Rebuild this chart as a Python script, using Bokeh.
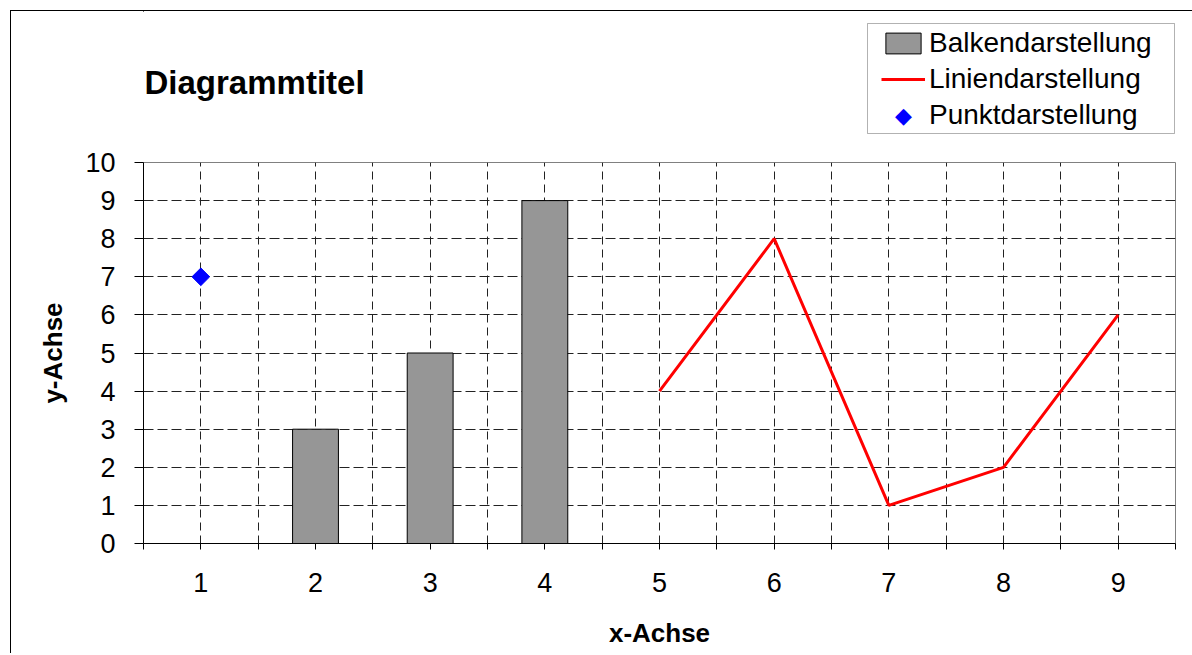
import math
from bokeh.plotting import figure
from bokeh.layouts import column
from bokeh.models import (Range1d, FixedTicker, Legend, LegendItem, Label,
                          BoxAnnotation, ColumnDataSource)
from bokeh.embed import file_html
from bokeh.resources import INLINE

# ---- data ----
x_ticks = [1, 2, 3, 4, 5, 6, 7, 8, 9]
x_half = [0.5, 1.5, 2.5, 3.5, 4.5, 5.5, 6.5, 7.5, 8.5, 9.5]
y_ticks = [0, 1, 2, 3, 4, 5, 6, 7, 8, 9, 10]

bar_x = [2, 3, 4]
bar_y = [3, 5, 9]

line_x = [5, 6, 7, 8, 9]
line_y = [4, 8, 1, 2, 6]

point_x = [1]
point_y = [7]

title_text = "Diagrammtitel"
x_label = "x-Achse"
y_label = "y-Achse"
legend_labels = ["Balkendarstellung", "Liniendarstellung", "Punktdarstellung"]

FONT = "Liberation Sans"
BAR_FILL = "#969696"
LINE_COL = "#ff0000"
PT_COL = "#0000ff"

bar_src = ColumnDataSource(dict(x=bar_x, top=bar_y))
line_src = ColumnDataSource(dict(x=line_x, y=line_y))
pt_src = ColumnDataSource(dict(x=point_x, y=point_y))

OX, OY = 11, 11          # content origin in page px (inside outer border)
W = 1181
FRAME_L, FRAME_R = 143, 1175

# ---------------- header figure (title + legend) ----------------
TOP_H = 131
top = figure(width=W, height=TOP_H, output_backend="svg", toolbar_location=None,
             title=None, x_range=Range1d(FRAME_L, FRAME_R),
             y_range=Range1d(OY + TOP_H, OY),
             x_axis_type=None, y_axis_type=None,
             min_border_left=FRAME_L - OX, min_border_right=OX + W - FRAME_R,
             min_border_top=0, min_border_bottom=0)
top.outline_line_color = None
top.background_fill_color = "white"
top.border_fill_color = "white"

# legend-glyph renderers (same data; they fall outside this header's frame)
lg_bar = top.vbar(x="x", top="top", source=bar_src, width=0.4, fill_color=BAR_FILL,
                  line_color="black", line_width=1)
lg_line = top.line(x="x", y="y", source=line_src, line_color=LINE_COL, line_width=3)
lg_pt = top.scatter(x="x", y="y", source=pt_src, marker="square",
                    fill_alpha=0, line_alpha=0)

legend_box = BoxAnnotation(left=867, right=1174, top=23, bottom=133,
                           fill_color="white", fill_alpha=1.0,
                           line_color="black", line_width=1)
top.add_layout(legend_box)

legend = Legend(items=[LegendItem(label=legend_labels[0], renderers=[lg_bar]),
                       LegendItem(label=legend_labels[1], renderers=[lg_line]),
                       LegendItem(label=legend_labels[2], renderers=[lg_pt])],
                location=(881 - FRAME_L, OY + TOP_H - 131), padding=0, spacing=4,
                glyph_width=44, glyph_height=26, label_height=32,
                label_standoff=4, label_text_font=FONT,
                label_text_font_size="28px", label_text_color="black",
                border_line_alpha=0, background_fill_alpha=0, margin=0)
top.add_layout(legend, "center")

# diamond symbol for the point series in the legend
legend_diamond = Label(x=903, y=115, text="\u25c6", text_font="DejaVu Sans",
                       text_font_size="22px", text_color=PT_COL,
                       text_align="center", text_baseline="middle")
top.add_layout(legend_diamond)

title = Label(x=FRAME_L + 1, y=82, text=title_text, text_font=FONT,
              text_font_size="33px", text_font_style="bold", text_color="black",
              text_baseline="alphabetic")
top.add_layout(title)

# ---------------- main chart ----------------
MAIN_H = 511
p = figure(width=W, height=MAIN_H, output_backend="svg", toolbar_location=None,
           title=None, x_range=Range1d(0.5, 9.5), y_range=Range1d(0, 10),
           min_border_left=FRAME_L - OX, min_border_right=OX + W - FRAME_R,
           min_border_top=20, min_border_bottom=110)
p.background_fill_color = "white"
p.border_fill_color = "white"
p.outline_line_color = "#808080"
p.outline_line_width = 1

p.xaxis.ticker = FixedTicker(ticks=x_ticks, minor_ticks=x_half)
p.yaxis.ticker = FixedTicker(ticks=y_ticks)
for ax in (p.xaxis[0], p.yaxis[0]):
    ax.axis_line_color = "black"
    ax.axis_line_width = 1
    ax.major_tick_line_color = "black"
    ax.minor_tick_line_color = "black"
    ax.major_tick_in = 0
    ax.minor_tick_in = 0
    ax.major_label_text_font = FONT
    ax.major_label_text_font_size = "27px"
    ax.major_label_text_color = "black"
    ax.axis_label_text_font = FONT
    ax.axis_label_text_font_size = "26px"
    ax.axis_label_text_font_style = "bold"
    ax.axis_label_text_color = "black"
p.xaxis.major_tick_out = 6
p.xaxis.minor_tick_out = 6
p.xaxis.major_label_standoff = 23
p.xaxis.axis_label = x_label
p.xaxis.axis_label_standoff = 23
p.yaxis.major_tick_out = 9
p.yaxis.minor_tick_out = 0
p.yaxis.minor_tick_line_color = None
p.yaxis.major_label_standoff = 19
p.yaxis.axis_label = y_label
p.yaxis.axis_label_standoff = 14

p.xgrid.ticker = FixedTicker(ticks=x_ticks, minor_ticks=x_half[1:-1])
p.xgrid.grid_line_color = "#222222"
p.xgrid.grid_line_dash = "8 5"
p.xgrid.minor_grid_line_color = "#222222"
p.xgrid.minor_grid_line_dash = "8 5"
p.ygrid.ticker = FixedTicker(ticks=y_ticks[:-1])
p.ygrid.grid_line_color = "#222222"
p.ygrid.grid_line_dash = "10 4"

p.vbar(x="x", top="top", source=bar_src, width=0.4, fill_color=BAR_FILL,
       line_color="black", line_width=1)
p.line(x="x", y="y", source=line_src, line_color=LINE_COL, line_width=3)
p.scatter(x="x", y="y", source=pt_src, marker="square", angle=math.pi / 4, size=12.5,
          fill_color=PT_COL, line_color=PT_COL)

layout = column(top, p, spacing=0,
                styles={"margin-left": "10px", "margin-top": "10px",
                        "border-left": "1px solid black",
                        "border-top": "1px solid black"})

open("out.html", "w").write(file_html(layout, INLINE))
